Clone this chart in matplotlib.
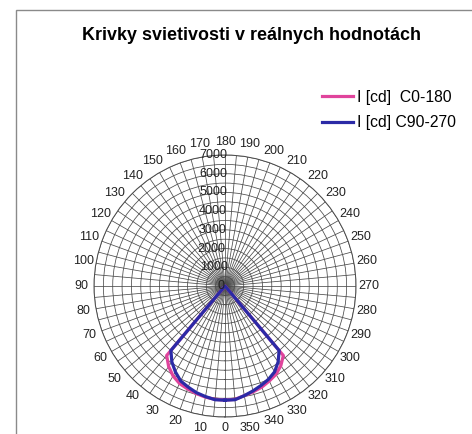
import numpy as np
import matplotlib
matplotlib.use('Agg')
import matplotlib.pyplot as plt
from matplotlib.patches import Rectangle

plt.rcParams['font.family'] = ['Liberation Sans', 'DejaVu Sans']

# uhly 0..355 po 5 stupnoch
uhly = list(range(0, 360, 5))

# C0-180 (ruzova), hodnoty len v dolnej casti, inak 0
c0_dolne = {0: 6100, 5: 6080, 10: 6030, 15: 5950, 20: 5850, 25: 5750,
            30: 5550, 35: 5250, 40: 4850,
            320: 4850, 325: 5200, 330: 5450, 335: 5600, 340: 5750,
            345: 5850, 350: 5950, 355: 6080}
# C90-270 (modra)
c90_dolne = {0: 6100, 5: 6100, 10: 6000, 15: 5900, 20: 5750, 25: 5600,
             30: 5300, 35: 4950, 40: 4500,
             320: 4500, 325: 4950, 330: 5300, 335: 5500, 340: 5650,
             345: 5800, 350: 5950, 355: 6100}

c0_180 = [c0_dolne.get(u, 0) for u in uhly]
c90_270 = [c90_dolne.get(u, 0) for u in uhly]

r_ticks = [0, 1000, 2000, 3000, 4000, 5000, 6000, 7000]
uhol_popisy = list(range(0, 360, 10))

W, H = 472, 434
fig = plt.figure(figsize=(W / 100, H / 100), dpi=100)

# ramik okolo grafu
fig.patches.append(Rectangle((16 / W, -0.1), 1.2, (H - 10) / H + 0.1,
                             transform=fig.transFigure, fill=False,
                             edgecolor='#8a8a8a', linewidth=1.0))

cx, cy, R = 225, H - 286, 131
ax = fig.add_axes([(cx - R) / W, (cy - R) / H, 2 * R / W, 2 * R / H],
                  projection='polar')
ax.set_theta_zero_location('S')
ax.set_theta_direction(-1)
ax.set_ylim(0, 7000)

th = np.deg2rad(uhly + [uhly[0]])
ax.plot(th, c0_180 + [c0_180[0]], color='#e0449c', linewidth=2.3,
        label='I [cd]  C0-180', zorder=3)
ax.plot(th, c90_270 + [c90_270[0]], color='#2b2aa6', linewidth=2.3,
        label='I [cd] C90-270', zorder=4)

# mriezka
ax.set_thetagrids(range(0, 360, 5), labels=[])
ax.set_rgrids(np.arange(500, 7001, 500), labels=[])
ax.grid(True, color='#4a4a4a', linewidth=0.55)
ax.spines['polar'].set_color('#4a4a4a')
ax.spines['polar'].set_linewidth(0.7)
ax.tick_params(length=0)

# popisy osi r vlavo od luca 180
for r in r_ticks:
    uhol = 181.2 if r > 1500 else 188
    ax.text(np.deg2rad(uhol), r, str(r), ha='right', va='center',
            fontsize=9, color='#222222', clip_on=False, zorder=5)

for u in uhol_popisy:
    k = 1.085 if u == 0 else 1.10  # spodna nula nech nie je odrezana
    ax.text(np.deg2rad(u), 7000 * k, str(u), ha='center', va='center',
            fontsize=9, color='#222222', clip_on=False)

fig.text(252 / W, 1 - 35 / H, 'Krivky svietivosti v reálnych hodnotách',
         ha='center', va='center', fontsize=12.9, fontweight='bold')

fig.legend(loc='center left', bbox_to_anchor=(322 / W, 1 - 110 / H),
           frameon=False, fontsize=11.3, handlelength=1.95,
           handletextpad=0.25, labelspacing=0.68,
           borderaxespad=0, borderpad=0)

fig.savefig('out.png', dpi=100, facecolor='white')
